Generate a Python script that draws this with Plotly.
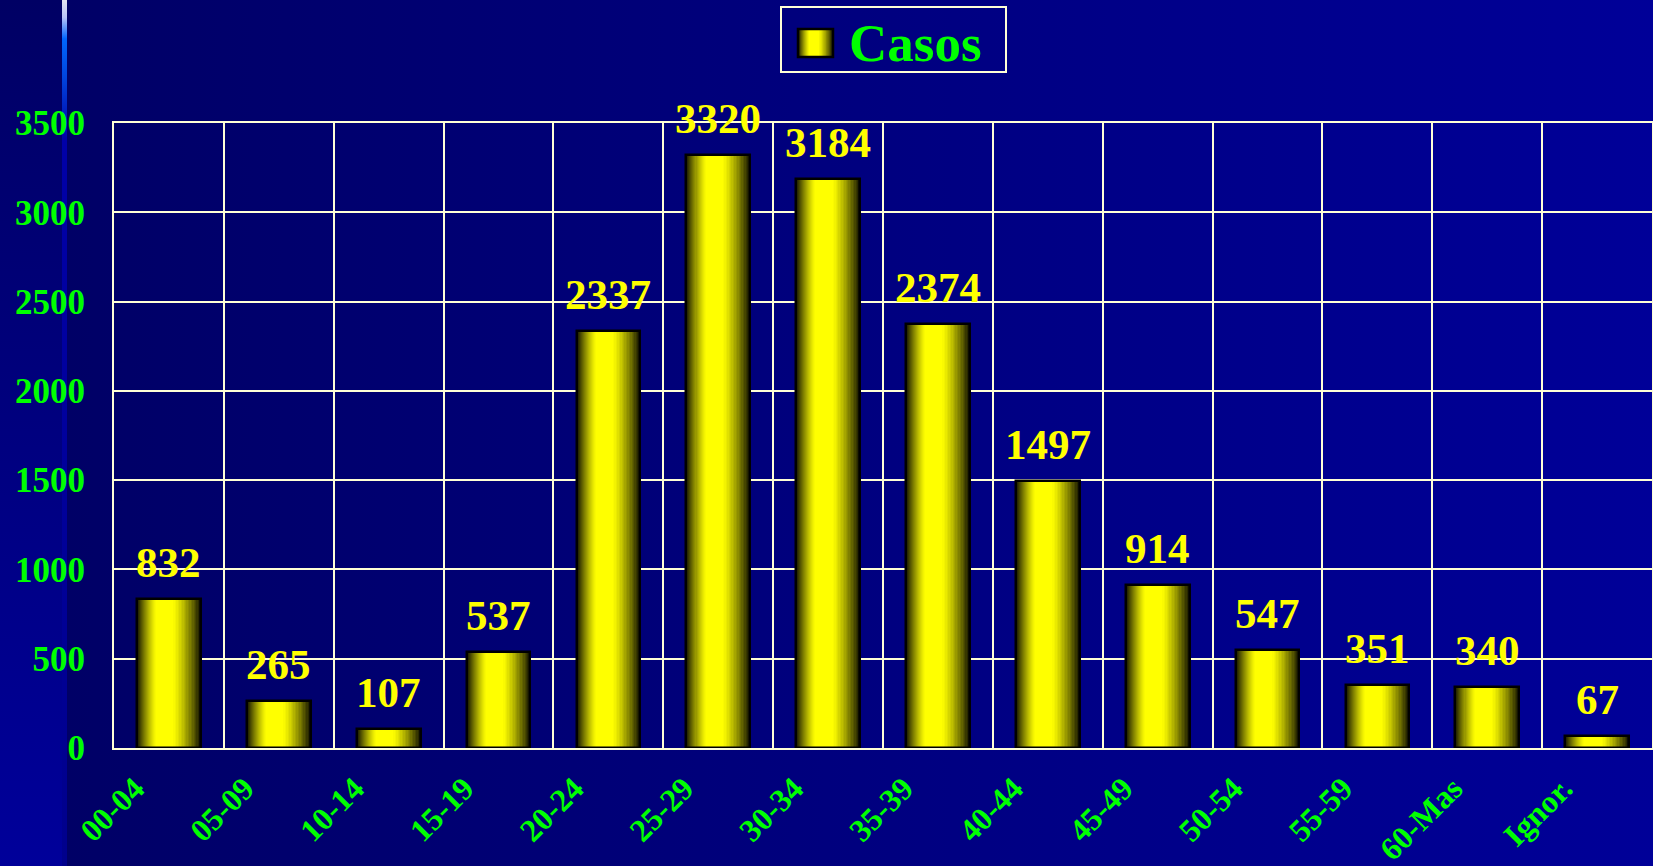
import base64
import plotly.graph_objects as go

# ---------------- data ----------------
categories = ["00-04", "05-09", "10-14", "15-19", "20-24", "25-29", "30-34",
              "35-39", "40-44", "45-49", "50-54", "55-59", "60-Mas", "Ignor."]
casos = [832, 265, 107, 537, 2337, 3320, 3184, 2374, 1497, 914, 547, 351, 340, 67]
y_ticks = [0, 500, 1000, 1500, 2000, 2500, 3000, 3500]
series_name = "Casos"

# ---------------- style ----------------
W, H = 1653, 866
ML, MR, MT, MB = 114, 1, 123, 118
PW, PH = W - ML - MR, H - MT - MB
CREAM = "#FFFFD6"
GREEN = "#00FF00"
YELLOW = "#FFFF00"
SERIF = "Liberation Serif, Times New Roman, serif"
BAR_W = 0.58
N_LAYERS = 26
SHIFT = 0.05


def shade(t):
    """brightness profile across a cylinder-like bar (t = 0 centre, 1 edge)"""
    if t < 0.26:
        b = 1.0
    else:
        b = 1.0 - 0.93 * ((t - 0.26) / 0.74) ** 1.25
    return "rgb(%d,%d,0)" % (int(255 * b), int(255 * b))


def px2x(px):
    return (px - ML) / PW


def px2y(py):
    return 1 - (py - MT) / PH


fig = go.Figure()

# layered bars to emulate the gradient fill
for k in range(N_LAYERS):
    frac = 1 - k / N_LAYERS
    w = BAR_W * frac
    t = frac - 0.5 / N_LAYERS
    fig.add_trace(go.Bar(
        x=categories, y=casos, name=series_name,
        width=[w] * len(categories),
        offset=[-w / 2 - SHIFT * (1 - frac)] * len(categories),
        marker=dict(color=shade(t), line=dict(width=0)),
        showlegend=False, hoverinfo="skip" if k else "x+y",
    ))
# outline
fig.add_trace(go.Bar(
    x=categories, y=casos, name=series_name,
    width=[BAR_W] * len(categories), offset=[-BAR_W / 2] * len(categories),
    marker=dict(color="rgba(0,0,0,0)", line=dict(color="#000000", width=2.5)),
    showlegend=False, hoverinfo="skip",
))

# value labels
for c, v in zip(categories, casos):
    fig.add_annotation(
        x=c, y=v, text=str(v), showarrow=False, yanchor="bottom",
        yshift=11, font=dict(family=SERIF, size=43, color=YELLOW, weight="bold"),
    )

# background (gradients) as svg image
svg = f"""<svg xmlns='http://www.w3.org/2000/svg' width='{W}' height='{H}' viewBox='0 0 {W} {H}' preserveAspectRatio='none'>
<defs>
<linearGradient id='g1' x1='0' y1='0' x2='1' y2='0'>
<stop offset='0' stop-color='#000064'/><stop offset='1' stop-color='#000098'/></linearGradient>
<linearGradient id='g2' x1='0' y1='0' x2='0' y2='1'>
<stop offset='0' stop-color='#000064'/><stop offset='1' stop-color='#00009A'/></linearGradient>
<linearGradient id='g3' x1='0' y1='0' x2='0' y2='1'>
<stop offset='0' stop-color='#E4E4F0'/><stop offset='0.02' stop-color='#B8C4F8'/>
<stop offset='0.045' stop-color='#0066FF'/><stop offset='0.09' stop-color='#0044DD'/>
<stop offset='0.16' stop-color='#0000A8'/><stop offset='1' stop-color='#00008C'/></linearGradient>
</defs>
<rect x='0' y='0' width='{W}' height='{H}' fill='url(#g1)'/>
<rect x='0' y='0' width='62' height='{H}' fill='url(#g2)'/>
<rect x='62' y='0' width='5' height='{H}' fill='url(#g3)'/>
</svg>"""
src = "data:image/svg+xml;base64," + base64.b64encode(svg.encode()).decode()

# legend (drawn manually to match the large symbol)
shapes = [dict(type="rect", xref="paper", yref="paper",
               x0=px2x(781), x1=px2x(1006), y0=px2y(7), y1=px2y(72),
               line=dict(color=CREAM, width=2), fillcolor="rgba(0,0,0,0)")]
sx0, sx1, sy0, sy1 = 798, 833, 29, 57
for k in range(14):
    frac = 1 - k / 14
    w = (sx1 - sx0) * frac
    cx = (sx0 + sx1) / 2 - 2 * (1 - frac)
    shapes.append(dict(type="rect", xref="paper", yref="paper",
                       x0=px2x(cx - w / 2), x1=px2x(cx + w / 2),
                       y0=px2y(sy0), y1=px2y(sy1),
                       line=dict(width=0), fillcolor=shade(frac - 0.5 / 14)))
shapes.append(dict(type="rect", xref="paper", yref="paper",
                   x0=px2x(sx0), x1=px2x(sx1), y0=px2y(sy0), y1=px2y(sy1),
                   line=dict(color="#000000", width=2.5), fillcolor="rgba(0,0,0,0)"))
fig.add_annotation(xref="paper", yref="paper", x=px2x(847), y=px2y(43),
                   xanchor="left", yanchor="middle", showarrow=False,
                   text=series_name,
                   font=dict(family=SERIF, size=53, color=GREEN, weight="bold"))

fig.update_layout(
    width=W, height=H,
    margin=dict(l=ML, r=MR, t=MT, b=MB, pad=0, autoexpand=False),
    paper_bgcolor="#000066", plot_bgcolor="rgba(0,0,0,0)",
    barmode="overlay", bargap=0,
    showlegend=False,
    shapes=shapes,
    images=[dict(source=src, xref="paper", yref="paper",
                 x=-ML / PW, y=1 + MT / PH, sizex=W / PW, sizey=H / PH,
                 xanchor="left", yanchor="top", sizing="stretch", layer="below")],
    xaxis=dict(
        type="category", categoryorder="array", categoryarray=categories,
        range=[-0.5, len(categories) - 0.5], automargin=False,
        tickson="boundaries", ticks="", showgrid=True,
        gridcolor=CREAM, gridwidth=2,
        showline=True, mirror=True, linecolor=CREAM, linewidth=2,
        tickangle=-45, ticklabelshift=-34, ticklabelstandoff=7,
        tickfont=dict(family=SERIF, size=32, color=GREEN, weight="bold"),
    ),
    yaxis=dict(
        range=[0, 3500], tickvals=y_ticks, ticks="", automargin=False,
        showgrid=True, gridcolor=CREAM, gridwidth=2, zeroline=False,
        showline=True, mirror=True, linecolor=CREAM, linewidth=2,
        ticklabelstandoff=20,
        tickfont=dict(family=SERIF, size=35, color=GREEN, weight="bold"),
    ),
)

fig.write_html(
    "out.html",
    config={"displayModeBar": False},
    post_script="document.body.style.margin='0';document.body.style.background='#000066';",
)
